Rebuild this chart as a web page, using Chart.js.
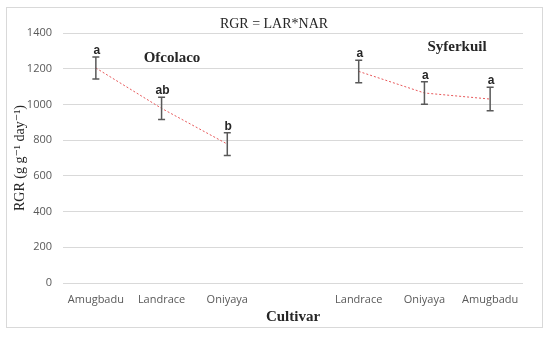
<!DOCTYPE html>
<html>
<head>
<meta charset="utf-8">
<script src="https://cdn.jsdelivr.net/npm/chart.js@4/dist/chart.umd.min.js"></script>
<style>
html,body{margin:0;padding:0;background:#fff;}
#wrap{width:550px;height:337px;position:relative;}
</style>
</head>
<body>
<div id="wrap"><canvas id="c" width="550" height="337"></canvas></div>
<script>
// ---- data ----
const categories = ['Amugbadu', 'Landrace', 'Oniyaya', '', 'Landrace', 'Oniyaya', 'Amugbadu'];
const yTicks = [0, 200, 400, 600, 800, 1000, 1200, 1400];
const ofcolacoValues = [1204, 978, 778];
const ofcolacoErrors = [62, 62, 64];
const ofcolacoLetters = ['a', 'ab', 'b'];
const syferkuilValues = [1185, 1064, 1030];
const syferkuilErrors = [63, 63, 66];
const syferkuilLetters = ['a', 'a', 'a'];

const ofcolacoData = [...ofcolacoValues, null, null, null, null];
const syferkuilData = [null, null, null, null, ...syferkuilValues];
const ofcolacoErrData = [...ofcolacoErrors, null, null, null, null];
const syferkuilErrData = [null, null, null, null, ...syferkuilErrors];
const ofcolacoLetterData = [...ofcolacoLetters, null, null, null, null];
const syferkuilLetterData = [null, null, null, null, ...syferkuilLetters];

const serif = '"Liberation Serif", "DejaVu Serif", serif';
const sans = '"Open Sans", "Liberation Sans", sans-serif';

const decor = {
  id: 'decor',
  beforeDraw(chart) {
    const ctx = chart.ctx;
    ctx.save();
    ctx.fillStyle = '#fff';
    ctx.fillRect(0, 0, chart.width, chart.height);
    ctx.strokeStyle = '#d9d9d9';
    ctx.lineWidth = 1;
    ctx.strokeRect(6.5, 7.5, 536, 320);
    ctx.restore();
  },
  afterDatasetsDraw(chart) {
    const ctx = chart.ctx;
    const xs = chart.scales.x, ys = chart.scales.y;
    const area = chart.chartArea;
    ctx.save();
    chart.data.datasets.forEach(ds => {
      ds.data.forEach((v, i) => {
        if (v == null) return;
        const e = ds.errors[i];
        const x = xs.getPixelForValue(i);
        const yt = ys.getPixelForValue(v + e);
        const yb = ys.getPixelForValue(v - e);
        ctx.strokeStyle = '#595959';
        ctx.lineWidth = 1.5;
        ctx.beginPath();
        ctx.moveTo(x, yt); ctx.lineTo(x, yb);
        ctx.moveTo(x - 3.5, yt); ctx.lineTo(x + 3.5, yt);
        ctx.moveTo(x - 3.5, yb); ctx.lineTo(x + 3.5, yb);
        ctx.stroke();
        const letter = ds.letters[i];
        if (letter) {
          ctx.fillStyle = '#262626';
          ctx.font = 'bold 12px "Liberation Sans", Arial, sans-serif';
          ctx.textAlign = 'center';
          ctx.textBaseline = 'alphabetic';
          ctx.fillText(letter, x + 1, yt - 3);
        }
      });
    });
    ctx.fillStyle = '#262626';
    ctx.textAlign = 'center';
    ctx.textBaseline = 'middle';
    ctx.font = '14px ' + serif;
    ctx.fillText('RGR = LAR*NAR', (area.left + area.right) / 2 - 19, 24);
    ctx.font = 'bold 15px ' + serif;
    ctx.fillText('Ofcolaco', 172, 58);
    ctx.fillText('Syferkuil', 457, 47);
    ctx.font = 'bold 15px ' + serif;
    ctx.fillText('Cultivar', (area.left + area.right) / 2, 317);
    ctx.translate(20, (area.top + area.bottom) / 2);
    ctx.rotate(-Math.PI / 2);
    ctx.font = '14px ' + serif;
    ctx.fillText('RGR (g g\u207B\u00B9 day\u207B\u00B9)', 0, 0);
    ctx.restore();
  }
};

new Chart(document.getElementById('c'), {
  type: 'line',
  data: {
    labels: categories,
    datasets: [
      {
        label: 'Ofcolaco', data: ofcolacoData, errors: ofcolacoErrData, letters: ofcolacoLetterData,
        borderColor: '#e8595b', borderWidth: 1, borderDash: [2, 2], pointRadius: 0, spanGaps: false, fill: false
      },
      {
        label: 'Syferkuil', data: syferkuilData, errors: syferkuilErrData, letters: syferkuilLetterData,
        borderColor: '#e8595b', borderWidth: 1, borderDash: [2, 2], pointRadius: 0, spanGaps: false, fill: false
      }
    ]
  },
  options: {
    responsive: false,
    animation: false,
    devicePixelRatio: 1,
    layout: { padding: { left: 0, right: 27, top: 33, bottom: 0 } },
    plugins: { legend: { display: false }, tooltip: { enabled: false }, title: { display: false } },
    scales: {
      x: {
        offset: true,
        grid: { display: false, drawTicks: false },
        border: { display: false },
        ticks: { color: '#595959', font: { family: sans, size: 11 }, padding: 10, maxRotation: 0, autoSkip: false },
        afterFit(s) { s.height = 54; }
      },
      y: {
        min: 0, max: 1400,
        afterBuildTicks(s) { s.ticks = yTicks.map(v => ({ value: v })); },
        grid: { color: '#d9d9d9', lineWidth: 1, drawTicks: false },
        border: { display: false },
        ticks: { color: '#595959', font: { family: sans, size: 11 }, padding: 11, callback: v => String(v) },
        afterFit(s) { s.width = 63; }
      }
    }
  },
  plugins: [decor]
});
</script>
</body>
</html>
